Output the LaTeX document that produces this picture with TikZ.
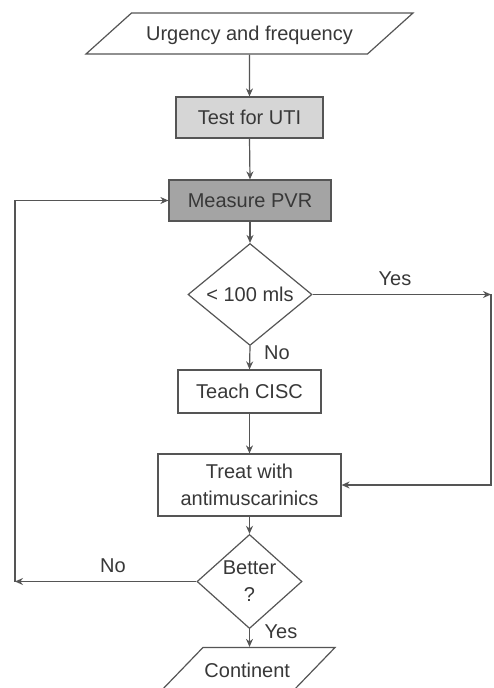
\documentclass[tikz,border=0pt]{standalone}
\usepackage{fontspec}
\setmainfont{Liberation Sans}
\usetikzlibrary{shapes.geometric,arrows.meta}
\definecolor{linegray}{HTML}{555555}
\definecolor{textgray}{HTML}{383838}
\definecolor{lightfill}{HTML}{D6D6D6}
\definecolor{darkfill}{HTML}{A4A4A4}

\begin{document}
\begin{tikzpicture}[x=0.5pt, y=-0.5pt,
    font=\fontsize{10}{13.5}\selectfont, text=textgray,
    box/.style={draw=linegray, line width=0.6pt, inner sep=0pt, align=center},
    para/.style={box, trapezium, trapezium stretches body=true,
        inner xsep=0pt, inner ysep=0pt},
    dia/.style={box, diamond},
    arr/.style={draw=linegray, line width=0.6pt, -{Stealth[length=4pt,width=3.5pt]}},
    lbl/.style={inner sep=0pt}]
    \useasboundingbox (0,0) rectangle (493,688);
    \clip (0,0) rectangle (493,688);
    \fill[white] (0,0) rectangle (493,688);

    \node[para, trapezium left angle=42, trapezium right angle=138,
        text height=13.75pt, text depth=6.75pt, minimum width=163.5pt] (start) at (249.5,33.5) {Urgency and frequency};
    \node[box, fill=lightfill, minimum width=73.5pt, minimum height=20.5pt] (uti) at (249.5,117.5) {Test for UTI};
    \node[box, fill=darkfill, minimum width=81pt, minimum height=20.5pt] (pvr) at (250,200.5) {Measure PVR};
    \node[dia, minimum width=62pt, minimum height=47.5pt] (vol) at (250,294.5) {< 100 mls};
    \node[box, minimum width=71.5pt, minimum height=21.5pt] (cisc) at (249.5,391.5) {Teach CISC};
    \node[box, minimum width=91.5pt, minimum height=31pt] (treat) at (249.5,485) {Treat with\\antimuscarinics};
    \node[dia, minimum width=52.5pt, minimum height=41.5pt] (better) at (249.5,581.5) {Better\\?};
    \node[para, trapezium left angle=46, trapezium right angle=134,
        text height=14.75pt, text depth=7.75pt, minimum width=87.75pt] (cont) at (247.25,670) {Continent};

    \coordinate (yesend) at (491,294.5);
    \coordinate (noend) at (15,581.5);

    \draw[arr] (start.south) -- (uti.north);
    \draw[arr] (uti.south) -- (pvr.north);
    \draw[arr] (pvr.south) -- (vol.north);
    \draw[arr] (vol.east) -- (yesend);
    \draw[arr] (yesend) |- (treat.east);
    \draw[arr] (vol.south) -- (cisc.north);
    \draw[arr] (cisc.south) -- (treat.north);
    \draw[arr] (treat.south) -- (better.north);
    \draw[arr] (better.west) -- (noend);
    \draw[arr] (noend) |- (pvr.west);
    \draw[arr] (better.south) -- (better.south |- cont.north);

    \node[lbl] (yes1) at (395,279) {Yes};
    \node[lbl] (no1) at (277,353) {No};
    \node[lbl] (no2) at (113,566) {No};
    \node[lbl] (yes2) at (281,632) {Yes};
\end{tikzpicture}
\end{document}
